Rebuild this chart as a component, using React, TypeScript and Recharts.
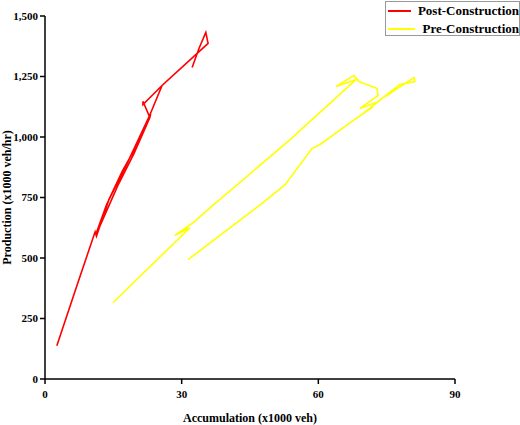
import { LineChart, Line, XAxis, YAxis, Legend, Label } from "recharts";

// Post-construction: accumulation (x1000 veh) vs production (x1000 veh/hr)
const postAccumulation = [
  2.6, 7.2, 11.0, 11.3, 14.0, 17.0, 20.0, 23.2, 23.0, 19.5, 16.0, 12.0, 11.2,
  13.5, 18.0, 22.9, 21.5, 21.5, 25.7, 22.9, 25.7, 35.8, 35.3, 33.8, 32.3,
];
const postProduction = [
  137, 397, 608, 590, 740, 860, 960, 1095, 1080, 930, 800, 630, 600, 720, 890,
  1086, 1147, 1134, 1213, 1086, 1213, 1387, 1432, 1366, 1287,
];

// Pre-construction
const preAccumulation = [
  31.4, 47.8, 52.7, 58.6, 60.4, 66.7, 72.0, 70.0, 76.0, 74.5, 81.0, 81.2, 77.9,
  73.0, 69.1, 73.1, 72.9, 68.9, 67.8, 63.9, 68.3, 53.8, 36.2, 32.9, 28.5, 31.8,
  14.9,
];
const preProduction = [
  493, 728, 803, 952, 969, 1055, 1125, 1100, 1190, 1165, 1246, 1229, 1217, 1145,
  1118, 1171, 1200, 1229, 1254, 1209, 1238, 989, 707, 651, 593, 625, 315,
];

const xTicks = [0, 30, 60, 90];
const yTicks = [0, 250, 500, 750, 1000, 1250, 1500];

const seriesNames = ["Post-Construction", "Pre-Construction"];
const seriesColors = ["#ff0000", "#ffff00"];

const font = '"Liberation Serif", "Times New Roman", serif';

const toPoints = (xs: number[], ys: number[]) =>
  xs.map((x, i) => ({ accumulation: x, production: ys[i] }));

const postData = toPoints(postAccumulation, postProduction);
const preData = toPoints(preAccumulation, preProduction);

const tickStyle = {
  fill: "#000",
  fontSize: 11,
  fontWeight: "bold",
  fontFamily: font,
};

const renderLegend = () => (
  <div
    style={{
      boxSizing: "border-box",
      width: 135,
      height: 35,
      border: "1px solid #999",
      background: "#fff",
      fontFamily: font,
      fontWeight: "bold",
      fontSize: 13,
      color: "#000",
    }}
  >
    {seriesNames.map((name, i) => (
      <div
        key={name}
        style={{ display: "flex", alignItems: "center", height: 17, marginBottom: 1 }}
      >
        <span
          style={{
            display: "inline-block",
            width: 28,
            height: 2,
            marginLeft: 2,
            marginRight: 7,
            background: seriesColors[i],
          }}
        />
        <span style={{ whiteSpace: "nowrap" }}>{name}</span>
      </div>
    ))}
  </div>
);

export default function App() {
  return (
    <div style={{ position: "absolute", left: 0, top: 0, width: 520, height: 425 }}>
      <LineChart
        width={520}
        height={425}
        margin={{ top: 16, right: 65, bottom: 0, left: 0 }}
      >
        <XAxis
          type="number"
          dataKey="accumulation"
          domain={[0, 90]}
          ticks={xTicks}
          height={46}
          tickSize={5}
          tickMargin={6}
          stroke="#000"
          strokeWidth={1.5}
          tick={tickStyle}
        >
          <Label
            value="Accumulation (x1000 veh)"
            position="insideBottom"
            offset={3}
            style={{ fill: "#000", fontSize: 12, fontWeight: "bold", fontFamily: font }}
          />
        </XAxis>
        <YAxis
          type="number"
          dataKey="production"
          domain={[0, 1500]}
          ticks={yTicks}
          width={45}
          tickSize={5}
          stroke="#000"
          strokeWidth={1.5}
          tick={tickStyle}
          tickFormatter={(v: number) => v.toLocaleString("en-US")}
        >
          <Label
            value="Production (x1000 veh/hr)"
            angle={-90}
            position="insideLeft"
            offset={7}
            style={{
              fill: "#000",
              fontSize: 12,
              fontWeight: "bold",
              fontFamily: font,
              textAnchor: "middle",
            }}
          />
        </YAxis>
        <Legend
          layout="vertical"
          align="center"
          verticalAlign="middle"
          content={renderLegend}
          wrapperStyle={{ top: 1, left: 385, width: 135 }}
        />
        <Line
          data={postData}
          dataKey="production"
          name={seriesNames[0]}
          type="linear"
          stroke={seriesColors[0]}
          strokeWidth={1.6}
          dot={false}
          isAnimationActive={false}
        />
        <Line
          data={preData}
          dataKey="production"
          name={seriesNames[1]}
          type="linear"
          stroke={seriesColors[1]}
          strokeWidth={1.6}
          dot={false}
          isAnimationActive={false}
        />
      </LineChart>
    </div>
  );
}
